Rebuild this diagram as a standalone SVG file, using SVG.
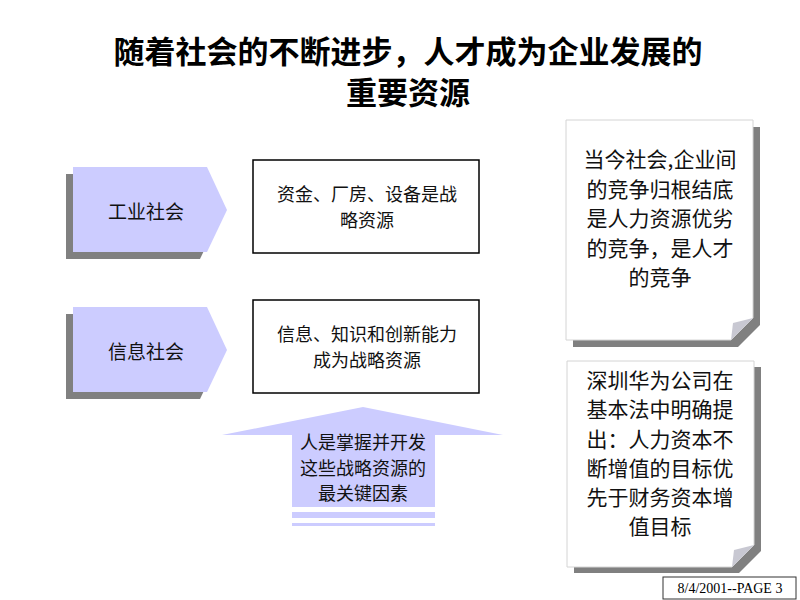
<svg xmlns="http://www.w3.org/2000/svg" width="800" height="600" viewBox="0 0 800 600">
<style>
.title{font-family:"Noto Sans CJK SC","Noto Sans",sans-serif;font-size:31px;font-weight:bold;fill:#000;text-anchor:middle}
.t{font-family:"Noto Sans CJK SC","Noto Sans",sans-serif;fill:#111;text-anchor:middle}
.lbl{font-size:19px}
.box{font-size:18px}
.note{font-size:21px}
.shadow{fill:#808080}
.arrow{fill:#ccccff}
.rect{fill:#fff;stroke:#000;stroke-width:1.5}
.page{fill:#fff;stroke:#d4d4d4;stroke-width:1}
.fold{fill:#c8c8d2}
.foot{font-family:"Liberation Serif",serif;font-size:14px;fill:#000;text-anchor:middle}
</style>
<rect width="800" height="600" fill="#fff"/>
<g id="title">
<text class="title" x="408" y="63">随着社会的不断进步，人才成为企业发展的</text>
<text class="title" x="408" y="104">重要资源</text>
</g>
<g id="industrial-society">
<polygon class="shadow" points="66,174 200,174 220,217 200,259 66,259"/>
<polygon class="arrow" points="73,167 207,167 227,210 207,252 73,252"/>
<text class="t lbl" x="146" y="219">工业社会</text>
</g>
<g id="information-society">
<polygon class="shadow" points="66,314 200,314 220,357 200,399 66,399"/>
<polygon class="arrow" points="73,307 207,307 227,350 207,392 73,392"/>
<text class="t lbl" x="146" y="359">信息社会</text>
</g>
<g id="box-industrial">
<rect class="rect" x="253" y="160" width="226" height="93"/>
<text class="t box" x="367" y="201">资金、厂房、设备是战</text>
<text class="t box" x="367" y="226.5">略资源</text>
</g>
<g id="box-information">
<rect class="rect" x="253" y="300" width="226" height="93"/>
<text class="t box" x="367" y="341">信息、知识和创新能力</text>
<text class="t box" x="367" y="366.5">成为战略资源</text>
</g>
<g id="key-factor">
<polygon class="arrow" points="363,407 503,435 435,435 435,507 292,507 292,435 222,435"/>
<rect class="arrow" x="292" y="512" width="143" height="6"/>
<rect class="arrow" x="292" y="523" width="143" height="3"/>
<text class="t box" x="363" y="449">人是掌握并开发</text>
<text class="t box" x="363" y="474.5">这些战略资源的</text>
<text class="t box" x="363" y="500">最关键因素</text>
</g>
<g id="note-competition">
<polygon class="shadow" points="573,127 760,127 760,325 738,347 573,347"/>
<polygon class="page" points="566,120 753,120 753,318 731,340 566,340"/>
<polygon class="fold" points="731,340 753,318 733,323"/>
<text class="t note" x="660" y="167">当今社会,企业间</text>
<text class="t note" x="660" y="197">的竞争归根结底</text>
<text class="t note" x="660" y="226">是人力资源优劣</text>
<text class="t note" x="660" y="256">的竞争，是人才</text>
<text class="t note" x="660" y="285">的竞争</text>
</g>
<g id="note-huawei">
<polygon class="shadow" points="574,367 761,367 761,551 739,573 574,573"/>
<polygon class="page" points="567,361 754,361 754,545 732,567 567,567"/>
<polygon class="fold" points="732,567 754,545 734,550"/>
<text class="t note" x="660" y="388">深圳华为公司在</text>
<text class="t note" x="660" y="417">基本法中明确提</text>
<text class="t note" x="660" y="447">出：人力资本不</text>
<text class="t note" x="660" y="476">断增值的目标优</text>
<text class="t note" x="660" y="505">先于财务资本增</text>
<text class="t note" x="660" y="534">值目标</text>
</g>
<g id="footer">
<rect x="663" y="577" width="133" height="22" fill="#fff" stroke="#333" stroke-width="1"/>
<text class="foot" x="730" y="593">8/4/2001--PAGE 3</text>
</g>
<g id="connectors"/>
</svg>
